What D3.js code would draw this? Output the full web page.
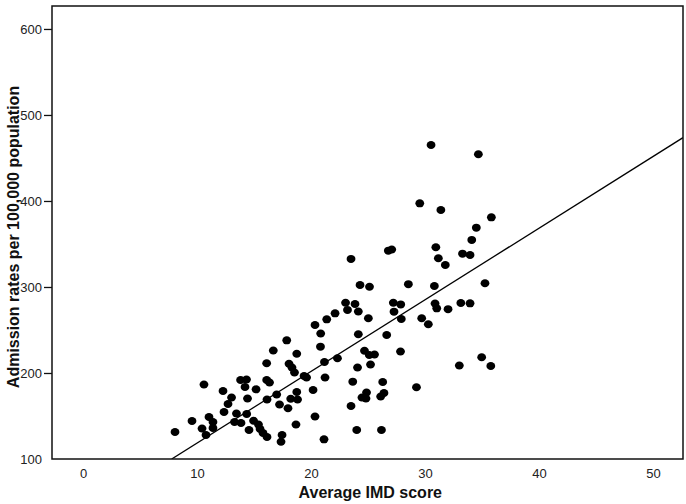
<!DOCTYPE html>
<html>
<head>
<meta charset="utf-8">
<script src="https://cdn.jsdelivr.net/npm/d3@7"></script>
<style>
  html, body { margin: 0; padding: 0; background: #fff; }
  svg { display: block; }
  text { font-family: "Liberation Sans", Arial, sans-serif; }
</style>
</head>
<body>
<svg id="chart" width="686" height="504"></svg>
<script>
// ---- data ----
const imdScore = [
  8.07, 9.56, 10.61, 10.44, 10.79, 11.05, 11.40, 11.40, 12.28, 12.37,
  12.72, 13.03, 13.46, 13.29, 13.86, 13.82, 14.34, 14.21, 14.36, 14.43,
  14.56, 14.96, 15.18, 15.39, 15.53, 15.79, 16.14, 16.11, 16.11, 16.36,
  16.14, 16.69, 16.99, 17.24, 17.46, 17.37, 17.87, 18.07, 18.33, 18.55,
  17.98, 18.22, 18.75, 18.75, 18.68, 18.82, 19.39, 19.61, 20.18, 20.35,
  20.35, 20.85, 20.83, 21.38, 21.18, 21.23, 21.14, 22.11, 22.32, 23.03,
  23.86, 23.20, 24.15, 23.51, 24.30, 25.13, 24.15, 24.69, 25.11, 25.57,
  24.08, 25.22, 23.66, 26.29, 24.87, 24.47, 24.82, 26.40, 26.11, 23.51,
  24.01, 26.18, 25.03, 26.64, 27.85, 27.22, 27.87, 27.28, 27.92, 26.78,
  27.08, 28.54, 29.25, 29.54, 30.53, 31.39, 30.95, 31.17, 31.78, 33.29,
  33.95, 34.10, 34.50, 35.82, 34.68, 30.82, 35.26, 30.88, 31.03, 32.02,
  33.14, 33.95, 29.71, 30.29, 33.01, 34.97, 35.77
];
const admissionRate = [
  131.4, 144.2, 186.6, 135.5, 127.9, 148.8, 143.0, 136.0, 179.1, 154.7,
  164.0, 171.5, 152.9, 143.0, 141.9, 191.9, 192.4, 183.7, 152.3, 170.3,
  133.7, 144.5, 181.0, 140.1, 134.9, 130.2, 125.6, 211.3, 191.9, 189.0,
  169.2, 226.2, 175.0, 163.4, 127.9, 120.1, 238.0, 210.7, 206.4, 200.6,
  159.0, 170.0, 222.4, 177.9, 140.1, 169.2, 196.5, 194.8, 180.2, 149.4,
  255.8, 245.9, 230.6, 262.4, 212.8, 194.8, 122.9, 269.4, 217.1, 281.7,
  280.2, 273.3, 271.5, 332.6, 302.3, 300.3, 245.0, 225.9, 220.9, 221.5,
  206.4, 209.9, 189.9, 189.5, 177.3, 171.5, 170.3, 176.7, 172.7, 161.6,
  133.7, 133.7, 263.6, 244.2, 225.0, 281.7, 279.7, 271.3, 262.8, 342.2,
  343.6, 303.3, 183.4, 397.3, 465.1, 389.5, 346.2, 333.4, 325.6, 338.7,
  337.2, 354.7, 369.0, 381.0, 454.3, 301.2, 304.3, 280.8, 275.2, 274.2,
  281.4, 281.0, 263.6, 256.7, 208.7, 218.3, 208.1
];
const xTicks = [0, 10, 20, 30, 40, 50];
const yTicks = [100, 200, 300, 400, 500, 600];
const fitIntercept = 35.2;
const fitSlope = 8.33;
const xTitle = "Average IMD score";
const yTitle = "Admission rates per 100,000 population";

// ---- layout ----
const W = 686, H = 504;
const margin = { left: 52, right: 3, top: 6, bottom: 45 };
const svg = d3.select("#chart");

const x = d3.scaleLinear().domain([-2.72, 52.63]).range([margin.left, W - margin.right]);
const y = d3.scaleLinear().domain([100, 626.7]).range([H - margin.bottom, margin.top]);

const points = imdScore.map((v, i) => ({ x: v, y: admissionRate[i] }));

svg.append("clipPath").attr("id", "plotclip")
  .append("rect")
  .attr("x", margin.left).attr("y", margin.top)
  .attr("width", W - margin.left - margin.right)
  .attr("height", H - margin.top - margin.bottom);

// points
svg.append("g").selectAll("ellipse").data(points).join("ellipse")
  .attr("cx", d => x(d.x))
  .attr("cy", d => y(d.y))
  .attr("rx", 4.4)
  .attr("ry", 4.0)
  .attr("fill", "#000");

// regression line
const x0 = (y.domain()[0] - fitIntercept) / fitSlope;
const x1 = x.domain()[1];
svg.append("line")
  .attr("clip-path", "url(#plotclip)")
  .attr("x1", x(x0)).attr("y1", y(fitIntercept + fitSlope * x0))
  .attr("x2", x(x1)).attr("y2", y(fitIntercept + fitSlope * x1))
  .attr("stroke", "#000").attr("stroke-width", 1.3);

// frame
svg.append("rect")
  .attr("x", margin.left).attr("y", margin.top)
  .attr("width", W - margin.left - margin.right)
  .attr("height", H - margin.top - margin.bottom)
  .attr("fill", "none").attr("stroke", "#111").attr("stroke-width", 1.5);

// y axis
const yAxis = d3.axisLeft(y).tickValues(yTicks).tickSize(8).tickPadding(2).tickFormat(d3.format("d"));
const gy = svg.append("g").attr("transform", `translate(${margin.left},0)`).call(yAxis);
gy.select(".domain").remove();
gy.selectAll(".tick line").attr("stroke", "#111").attr("stroke-width", 1.3)
  .attr("display", d => d === 100 ? "none" : null);
gy.selectAll(".tick text").attr("font-size", 13).attr("fill", "#222")
  .attr("font-family", "'Liberation Sans', Arial, sans-serif");

// x axis
const xAxis = d3.axisBottom(x).tickValues(xTicks).tickSize(0).tickPadding(10).tickFormat(d3.format("d"));
const gx = svg.append("g").attr("transform", `translate(0,${H - margin.bottom})`).call(xAxis);
gx.select(".domain").remove();
gx.selectAll(".tick text").attr("font-size", 13).attr("fill", "#222")
  .attr("font-family", "'Liberation Sans', Arial, sans-serif");

// titles
svg.append("text")
  .attr("x", x(25.2)).attr("y", 498)
  .attr("text-anchor", "middle")
  .attr("font-size", 16).attr("font-weight", "bold").attr("fill", "#111")
  .text(xTitle);

svg.append("text")
  .attr("transform", `translate(19,${237}) rotate(-90)`)
  .attr("text-anchor", "middle")
  .attr("font-size", 16).attr("font-weight", "bold").attr("fill", "#111")
  .text(yTitle);
</script>
</body>
</html>
